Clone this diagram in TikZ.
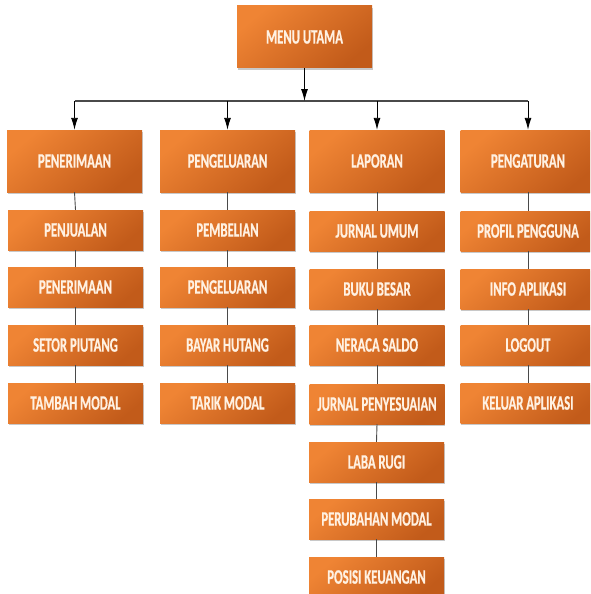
\documentclass[tikz,border=0pt]{standalone}
\usepackage{fontspec}
\setmainfont[FakeStretch=0.62, FakeBold=0.6]{Carlito}
\usetikzlibrary{arrows.meta,shadows}
\definecolor{boxlight}{HTML}{EF8434}
\definecolor{boxdark}{HTML}{C25B1A}
\definecolor{txtcol}{HTML}{FFF1E2}
\definecolor{conn}{HTML}{4A4A4A}
\tikzset{
  orangebox/.style={rectangle, minimum width=135pt, inner sep=0pt,
    top color=boxlight, bottom color=boxdark, shading angle=40,
    text=txtcol, font=\fontsize{20.5}{22}\selectfont\bfseries,
    drop shadow={shadow xshift=0.8pt, shadow yshift=-2pt, opacity=0.3, fill=black!70}},
  bigbox/.style={orangebox, minimum height=62pt},
  subbox/.style={orangebox, minimum height=40pt},
  arrowline/.style={draw=black, line width=0.9pt, -{Latex[length=12pt,width=7pt]}},
  busline/.style={draw=conn, line width=1.2pt},
  linkline/.style={draw=conn, line width=0.9pt}
}
\begin{document}
\begin{tikzpicture}[x=1pt,y=-1pt]
\path[fill=white, use as bounding box] (0,0) rectangle (590,594);
\clip (0,0) rectangle (590,594);

% top
\node[bigbox] (menu) at (304.5,37) {MENU UTAMA};

% level 1
\node[bigbox] (pen) at (74.5,161) {PENERIMAAN};
\node[bigbox] (pgl) at (227.5,161) {PENGELUARAN};
\node[bigbox] (lap) at (377,161) {LAPORAN};
\node[bigbox] (pga) at (528,161) {PENGATURAN};

% column 1
\node[subbox] (c1a) at (75.5,230) {PENJUALAN};
\node[subbox] (c1b) at (75.5,287) {PENERIMAAN};
\node[subbox] (c1c) at (75.5,345) {SETOR PIUTANG};
\node[subbox] (c1d) at (75.5,403) {TAMBAH MODAL};

% column 2
\node[subbox] (c2a) at (227.5,230) {PEMBELIAN};
\node[subbox] (c2b) at (227.5,287) {PENGELUARAN};
\node[subbox] (c2c) at (227.5,345) {BAYAR HUTANG};
\node[subbox] (c2d) at (227.5,403) {TARIK MODAL};

% column 3
\node[subbox] (c3a) at (377,231) {JURNAL UMUM};
\node[subbox] (c3b) at (377,289) {BUKU BESAR};
\node[subbox] (c3c) at (377,345) {NERACA SALDO};
\node[subbox] (c3d) at (377,404) {JURNAL PENYESUAIAN};
\node[subbox] (c3e) at (376.5,462) {LABA RUGI};
\node[subbox] (c3f) at (376.5,519) {PERUBAHAN MODAL};
\node[subbox] (c3g) at (376.5,577) {POSISI KEUANGAN};

% column 4
\node[subbox] (c4a) at (528,231) {PROFIL PENGGUNA};
\node[subbox] (c4b) at (528,289) {INFO APLIKASI};
\node[subbox] (c4c) at (528,345) {LOGOUT};
\node[subbox] (c4d) at (528,403) {KELUAR APLIKASI};

% bus
\coordinate (bus) at (304.5,101);
\coordinate (busA) at (74.5,101);
\coordinate (busB) at (227.5,101);
\coordinate (busC) at (377,101);
\coordinate (busD) at (528,101);
\draw[busline] (busA) -- (busD);
\draw[arrowline] (menu.south) -- (bus);
\draw[arrowline] (busA) -- (pen.north);
\draw[arrowline] (busB) -- (pgl.north);
\draw[arrowline] (busC) -- (lap.north);
\draw[arrowline] (busD) -- (pga.north);

% links
\draw[linkline] (pen.south) -- (c1a.north);
\draw[linkline] (c1a.south) -- (c1b.north);
\draw[linkline] (c1b.south) -- (c1c.north);
\draw[linkline] (c1c.south) -- (c1d.north);

\draw[linkline] (pgl.south) -- (c2a.north);
\draw[linkline] (c2a.south) -- (c2b.north);
\draw[linkline] (c2b.south) -- (c2c.north);
\draw[linkline] (c2c.south) -- (c2d.north);

\draw[linkline] (lap.south) -- (c3a.north);
\draw[linkline] (c3a.south) -- (c3b.north);
\draw[linkline] (c3b.south) -- (c3c.north);
\draw[linkline] (c3c.south) -- (c3d.north);
\draw[linkline] (c3d.south) -- (c3e.north);
\draw[linkline] (c3e.south) -- (c3f.north);
\draw[linkline] (c3f.south) -- (c3g.north);

\draw[linkline] (pga.south) -- (c4a.north);
\draw[linkline] (c4a.south) -- (c4b.north);
\draw[linkline] (c4b.south) -- (c4c.north);
\draw[linkline] (c4c.south) -- (c4d.north);
\end{tikzpicture}
\end{document}
